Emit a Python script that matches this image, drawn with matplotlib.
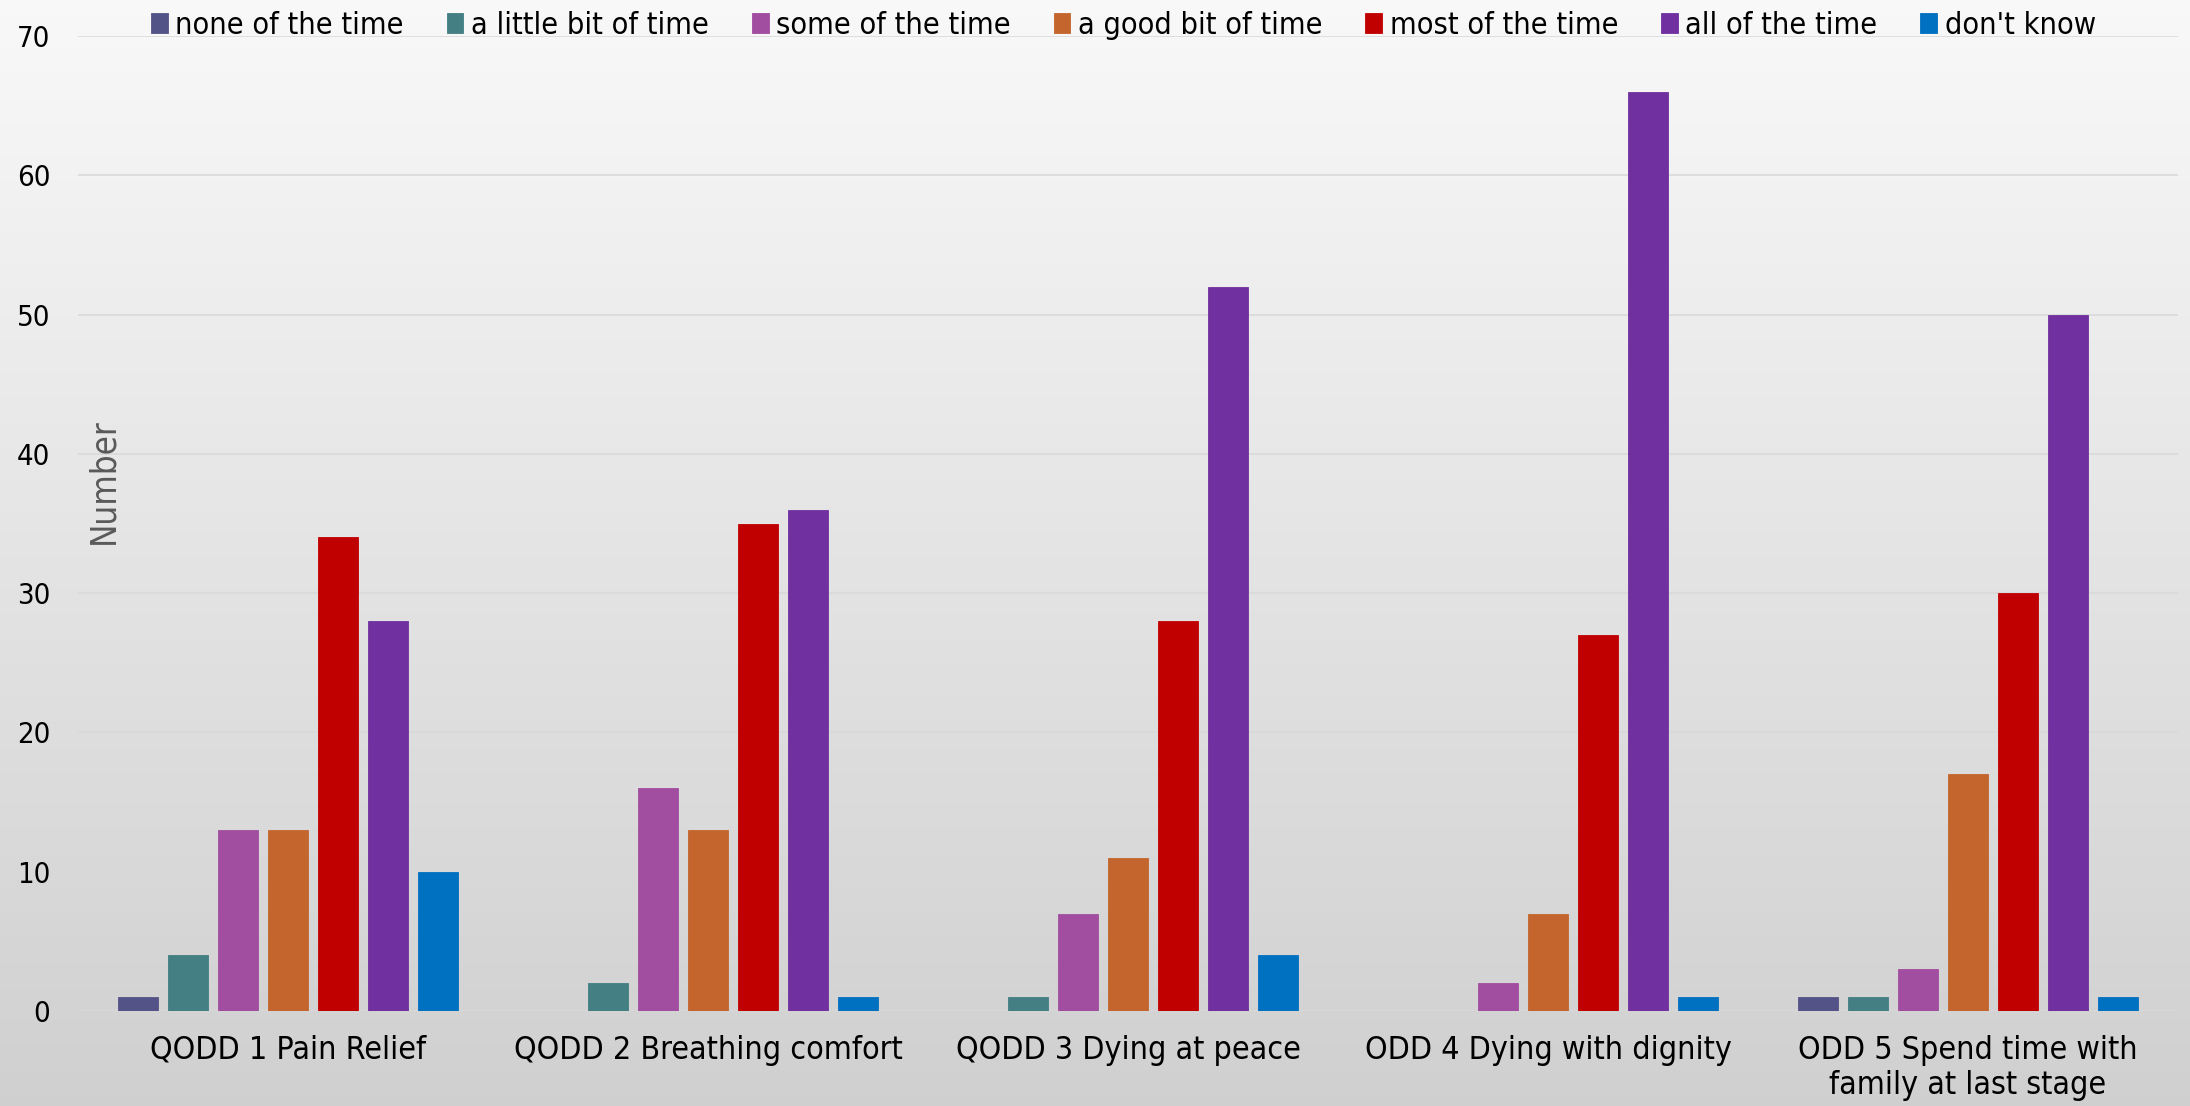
import numpy as np
import matplotlib
matplotlib.use("Agg")
import matplotlib.pyplot as plt

plt.rcParams["font.family"] = ["DejaVu Sans"]
plt.rcParams["font.stretch"] = "condensed"

categories = ["QODD 1 Pain Relief", "QODD 2 Breathing comfort", "QODD 3 Dying at peace",
              "ODD 4 Dying with dignity", "ODD 5 Spend time with\nfamily at last stage"]
series = ["none of the time", "a little bit of time", "some of the time",
          "a good bit of time", "most of the time", "all of the time", "don't know"]
none_time = [1, 0, 0, 0, 1]
little_bit = [4, 2, 1, 0, 1]
some_time = [13, 16, 7, 2, 3]
good_bit = [13, 13, 11, 7, 17]
most_time = [34, 35, 28, 27, 30]
all_time = [28, 36, 52, 66, 50]
dont_know = [10, 1, 4, 1, 1]
values = [none_time, little_bit, some_time, good_bit, most_time, all_time, dont_know]
colors = ["#545388", "#437f83", "#a14da0", "#c3652d", "#c00000", "#7030a0", "#0070c0"]

fig = plt.figure(figsize=(21.9, 11.06), dpi=100)

# grey vertical gradient behind everything
bg = fig.add_axes([0, 0, 1, 1], zorder=-10)
grad = np.linspace(0, 1, 256).reshape(-1, 1)
top = np.array([0.975, 0.975, 0.975])
bot = np.array([0.815, 0.815, 0.815])
img = top + (bot - top) * grad[:, :, None]
bg.imshow(img, aspect="auto", extent=[0, 1, 0, 1])
bg.axis("off")

ax = fig.add_axes([0.0356, 0.0859, 0.9589, 0.8815])
ax.patch.set_alpha(0)

x = np.arange(len(categories))
slot = 0.119
width = 0.095
for i, (name, vals, c) in enumerate(zip(series, values, colors)):
    ax.bar(x + (i - 3) * slot, vals, width, color=c, label=name,
           edgecolor=c, linewidth=0.6, zorder=3)

ax.set_xlim(-0.5, len(categories) - 0.5)
ax.set_ylim(0, 70)
ax.set_yticks(np.arange(0, 71, 10))
ax.set_xticks(x)
ax.set_xticklabels(categories, fontsize=23)
ax.tick_params(axis="y", labelsize=21, length=0, pad=20)
ax.tick_params(axis="x", length=0, pad=17)
ax.grid(axis="y", color="#d9d9d9", linewidth=1.2, zorder=0)
for s in ax.spines.values():
    s.set_visible(False)

fig.text(0.047, 0.565, "Number", rotation=90, fontsize=25, color="#595959",
         ha="center", va="center")

fig.legend(loc="upper center", bbox_to_anchor=(0.513, 1.015), ncol=7, frameon=False,
           fontsize=22, handlelength=0.55, handleheight=0.6, handletextpad=0.25,
           columnspacing=1.4)

fig.savefig("out.png", dpi=100)
